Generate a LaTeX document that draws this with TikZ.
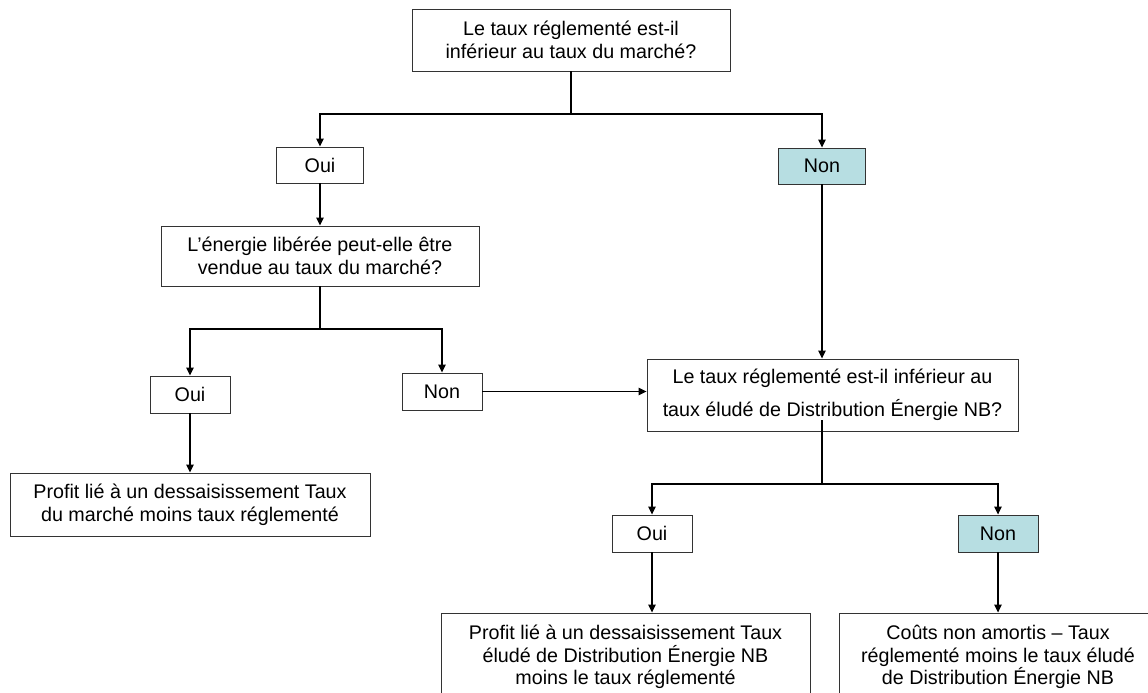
\documentclass[tikz,border=0pt]{standalone}
\usepackage{fontspec}
\setmainfont{Liberation Sans}
\usetikzlibrary{arrows.meta}
\definecolor{teal1}{RGB}{183,222,226}
\tikzset{
  box/.style={draw=black!80, line width=0.9pt, rectangle, inner sep=0pt, align=center,
    font=\fontsize{19.7pt}{22.7pt}\selectfont},
  yn/.style={box, minimum width=80pt, minimum height=37pt},
  teal/.style={fill=teal1},
  conn/.style={draw=black, line width=1.2pt},
  arr/.style={conn, -{Triangle[length=8pt,width=7.5pt]}},
}
\begin{document}
\begin{tikzpicture}[x=1pt,y=-1pt]
\clip (0,0) rectangle (1148,693);
\fill[white] (0,0) rectangle (1148,693);
% nodes
\node[box, minimum width=318pt, minimum height=62pt] (top) at (571,40)
  {Le taux réglementé est-il\\inférieur au taux du marché?};
\node[yn, minimum width=87pt, minimum height=36pt] (oui1) at (320,165) {Oui};
\node[yn, teal, minimum width=87pt, minimum height=36pt] (non1) at (822,166) {Non};
\node[box, minimum width=318pt, minimum height=60pt] (q2) at (320,256)
  {L’énergie libérée peut-elle être\\vendue au taux du marché?};
\node[yn] (oui2) at (190,394.5) {Oui};
\node[yn] (non2) at (442,391.5) {Non};
\node[box, minimum width=360pt, minimum height=63pt] (r1) at (190,504.5)
  {Profit lié à un dessaisissement Taux\\du marché moins taux réglementé};
\node[box, minimum width=371pt, minimum height=72pt,
  font=\fontsize{19.7pt}{33pt}\selectfont] (q3) at (832.5,395)
  {Le taux réglementé est-il inférieur au\\taux éludé de Distribution Énergie NB?};
\node[yn] (oui3) at (652,533.5) {Oui};
\node[yn, teal] (non3) at (998,533.5) {Non};
\node[box, minimum width=369pt, minimum height=88pt] (r2) at (625.5,657)
  {Profit lié à un dessaisissement Taux\\éludé de Distribution Énergie NB\\moins le taux réglementé};
\node[box, minimum width=318pt, minimum height=88pt] (r3) at (998,657)
  {Coûts non amortis – Taux\\réglementé moins le taux éludé\\de Distribution Énergie NB};
% junctions
\coordinate (j1) at (571,114);
\coordinate (j2) at (320,329);
\coordinate (j3) at (822,484);
% connectors
\draw[conn] (top) -- (j1);
\draw[arr] (j1) -| (oui1);
\draw[arr] (j1) -| (non1);
\draw[arr] (oui1) -- (q2);
\draw[conn] (q2) -- (j2);
\draw[arr] (j2) -| (oui2);
\draw[arr] (j2) -| (non2);
\draw[arr] (oui2) -- (r1);
\draw[arr] (non2.east) -- (q3.west |- non2.east);
\draw[arr] (non1) -- (non1 |- q3.north);
\draw[conn] ([yshift=11pt]j3 |- q3.south) -- (j3);
\draw[arr] (j3) -| (oui3);
\draw[arr] (j3) -| (non3);
\draw[arr] (oui3) -- (oui3 |- r2.north);
\draw[arr] (non3) -- (r3);
\end{tikzpicture}
\end{document}
